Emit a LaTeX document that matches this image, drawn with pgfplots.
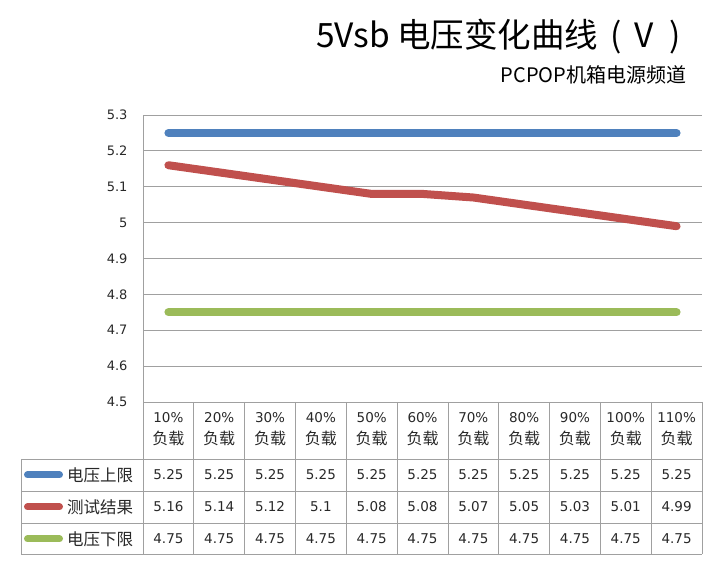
\documentclass[border=0pt]{standalone}
\usepackage{fontspec}
\setmainfont{Noto Sans CJK SC}
\newfontfamily\num{DejaVu Sans}
\usepackage{pgfplots}
\usepackage{pgfplotstable}
\pgfplotsset{compat=1.18}
\definecolor{upblue}{RGB}{79,129,189}
\definecolor{testred}{RGB}{192,80,77}
\definecolor{lowgreen}{RGB}{155,187,89}
\definecolor{gridgray}{RGB}{160,160,160}
\definecolor{txt}{RGB}{40,40,40}

\pgfplotstableread{
x up test low
0 5.25 5.16 4.75
1 5.25 5.14 4.75
2 5.25 5.12 4.75
3 5.25 5.1 4.75
4 5.25 5.08 4.75
5 5.25 5.08 4.75
6 5.25 5.07 4.75
7 5.25 5.05 4.75
8 5.25 5.03 4.75
9 5.25 5.01 4.75
10 5.25 4.99 4.75
}\datatable

\begin{document}
\begin{tikzpicture}[x=1pt,y=1pt]
\useasboundingbox (0,0) rectangle (720,564);
\begin{axis}[
  at={(143pt,162pt)}, anchor=south west,
  scale only axis, width=559pt, height=287pt,
  xmin=-0.5, xmax=10.5, ymin=4.5, ymax=5.3,
  axis x line=none, axis y line*=left,
  axis line style={draw=gridgray, line width=0.8pt, -},
  ytick={4.5,4.6,4.7,4.8,4.9,5,5.1,5.2,5.3},
  yticklabels={4.5,4.6,4.7,4.8,4.9,5,5.1,5.2,5.3},
  major tick length=0pt,
  ymajorgrids, grid style={draw=gridgray, line width=0.8pt},
  yticklabel style={font=\num\fontsize{13}{13}\selectfont, text=txt, xshift=-12pt},
  clip=false]
\addplot[no marks, line width=8pt, line cap=round, line join=round, color=upblue] table[x=x,y=up]{\datatable};
\addplot[no marks, line width=8pt, line cap=round, line join=round, color=testred] table[x=x,y=test]{\datatable};
\addplot[no marks, line width=8pt, line cap=round, line join=round, color=lowgreen] table[x=x,y=low]{\datatable};
\end{axis}
% titles
\node[anchor=west, font=\fontsize{33.5}{35}\selectfont, text=black, inner sep=0pt] at (316,527) {5Vsb 电压变化曲线\hspace{12pt}(\hspace{13pt}V\hspace{15pt})};
\node[anchor=east, font=\fontsize{20}{22}\selectfont, text=black] at (690,489) {PCPOP机箱电源频道};
% data table
\def\cw{50.818}
\draw[gridgray, line width=0.8pt] (143,162) -- (143,10);
\foreach \k in {1,...,11} {
  \draw[gridgray, line width=0.8pt] ({143+\k*\cw},162) -- ({143+\k*\cw},10);
}
\foreach \yy in {105,73,41,10} {
  \draw[gridgray, line width=0.8pt] (21,\yy) -- ({143+11*\cw},\yy);
}
\draw[gridgray, line width=0.8pt] (21,105) -- (21,10);
% header
\foreach \p [count=\i from 0] in {10,20,30,40,50,60,70,80,90,100,110} {
  \node[align=center, font=\fontsize{16}{22}\selectfont, text=txt, inner sep=0pt] at ({143+(\i+0.5)*\cw},135) {{\num\fontsize{13.5}{22}\selectfont \p\%}\\负载};
}
% legend keys and labels
\draw[upblue, line width=7pt, line cap=round] (27.5,89) -- (59.5,89);
\draw[testred, line width=7pt, line cap=round] (27.5,57) -- (59.5,57);
\draw[lowgreen, line width=7pt, line cap=round] (27.5,25) -- (59.5,25);
\node[anchor=west, font=\fontsize{16.5}{18}\selectfont, text=txt, inner sep=0pt] at (67,89) {电压上限};
\node[anchor=west, font=\fontsize{16.5}{18}\selectfont, text=txt, inner sep=0pt] at (67,57) {测试结果};
\node[anchor=west, font=\fontsize{16.5}{18}\selectfont, text=txt, inner sep=0pt] at (67,25) {电压下限};
% values
\foreach \i in {0,...,10} {
  \pgfplotstablegetelem{\i}{up}\of\datatable
  \node[font=\num\fontsize{13.5}{14}\selectfont, text=txt] at ({143+(\i+0.5)*\cw},89) {\pgfplotsretval};
  \pgfplotstablegetelem{\i}{test}\of\datatable
  \node[font=\num\fontsize{13.5}{14}\selectfont, text=txt] at ({143+(\i+0.5)*\cw},57) {\pgfplotsretval};
  \pgfplotstablegetelem{\i}{low}\of\datatable
  \node[font=\num\fontsize{13.5}{14}\selectfont, text=txt] at ({143+(\i+0.5)*\cw},25) {\pgfplotsretval};
}
\end{tikzpicture}
\end{document}
